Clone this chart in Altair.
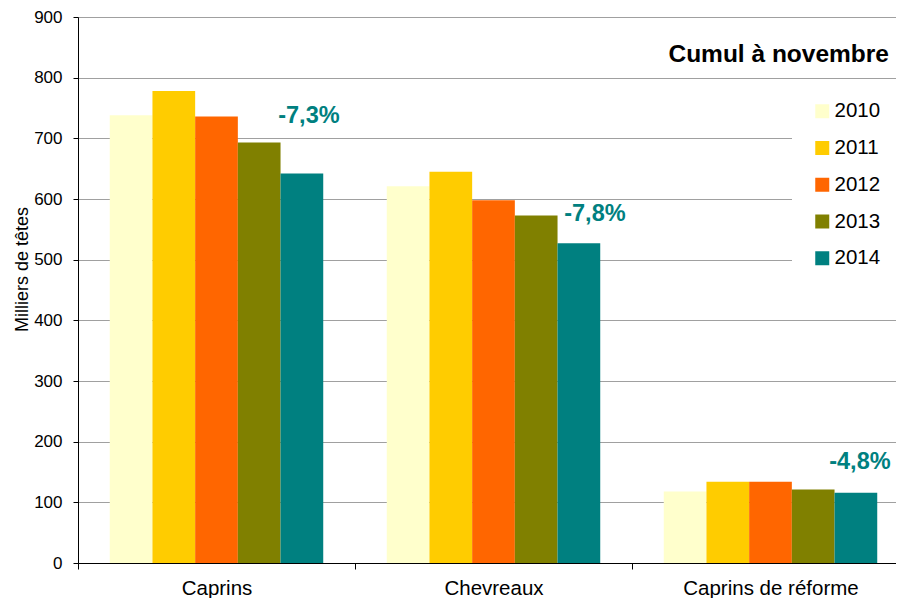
import altair as alt
import pandas as pd

categories = ["Caprins", "Chevreaux", "Caprins de réforme"]
years = ["2010", "2011", "2012", "2013", "2014"]
caprins = [738, 778, 736, 693, 642]
chevreaux = [621, 645, 598, 573, 527]
reforme = [118, 134, 134, 121, 116]
colors = ["#FFFFCC", "#FFCC00", "#FF6600", "#808000", "#008080"]
ann_labels = ["-7,3%", "-7,8%", "-4,8%"]
ann_y = [736, 576, 166]
title_text = "Cumul à novembre"
y_title = "Milliers de têtes"

rows = []
for cat, vals in zip(categories, [caprins, chevreaux, reforme]):
    for yr, v in zip(years, vals):
        rows.append({"cat": cat, "year": yr, "value": v})
df = pd.DataFrame(rows)

font = "Liberation Sans"
# the plot area runs a little past the right edge of the visible picture (cropped)
W, H = 831, 546

xscale = alt.Scale(domain=categories, paddingInner=0, paddingOuter=0)
xoff_scale = alt.Scale(domain=years, paddingInner=0, paddingOuter=0.744)
yscale = alt.Scale(domain=[0, 900], nice=False)

x_enc = alt.X("cat:N", scale=xscale, sort=categories,
              axis=alt.Axis(title=None, labelAngle=0, tickBand="extent",
                            labelFont=font, labelFontSize=20.5, labelColor="black",
                            domainColor="black", tickColor="black", tickSize=6,
                            labelPadding=9, grid=False))
y_enc = alt.Y("value:Q", scale=yscale,
              axis=alt.Axis(title=y_title, values=list(range(0, 901, 100)),
                            labelFont=font, labelFontSize=17, labelColor="black",
                            domainColor="black", tickColor="black", tickSize=5,
                            labelPadding=11, gridColor="#A0A0A0", gridWidth=1,
                            titleFont=font, titleFontSize=18, titleFontWeight="normal",
                            titleColor="black", titleX=-56, titleY=252,
                            titleAlign="center", titleBaseline="middle"))

bars = alt.Chart(df).mark_bar().encode(
    x=x_enc,
    xOffset=alt.XOffset("year:N", scale=xoff_scale, sort=years),
    y=y_enc,
    color=alt.Color("year:N", scale=alt.Scale(domain=years, range=colors),
                    legend=alt.Legend(title=None, orient="none", legendX=714, legendY=64,
                                      symbolType="square", symbolSize=196,
                                      symbolStrokeWidth=0, labelFont=font,
                                      labelFontSize=20.5, labelColor="black",
                                      rowPadding=15.75, labelOffset=2, padding=20,
                                      fillColor="white", labelLimit=0)),
)

# one text layer per percentage label, each nudged right of its 2014 bar
ann_shift = [7, 16, 4]
layers = [bars]
for cat, lab, yv, shift in zip(categories, ann_labels, ann_y, ann_shift):
    d = pd.DataFrame({"cat": [cat], "year": ["2014"], "label": [lab], "ypos": [yv]})
    layers.append(
        alt.Chart(d).mark_text(font=font, fontSize=23.5, fontWeight="bold",
                               color="#008080", align="center",
                               baseline="middle", dx=shift).encode(
            x=alt.X("cat:N", scale=xscale, sort=categories),
            xOffset=alt.XOffset("year:N", scale=xoff_scale, sort=years),
            y=alt.Y("ypos:Q", scale=yscale),
            text="label:N",
        )
    )

title = alt.Chart(pd.DataFrame({"t": [title_text]})).mark_text(
    font=font, fontSize=24.5, fontWeight="bold", color="black",
    align="right", baseline="alphabetic").encode(
    x=alt.value(811), y=alt.value(45), text="t:N")
layers.append(title)

chart = alt.layer(*layers).properties(
    width=W, height=H,
    padding={"left": 70, "top": 9, "right": -13, "bottom": 35},
    autosize=alt.AutoSizeParams(type="none"),
).configure_view(stroke="transparent").configure(background="white")

chart.save("out.html", embed_options={"renderer": "svg", "actions": False})
